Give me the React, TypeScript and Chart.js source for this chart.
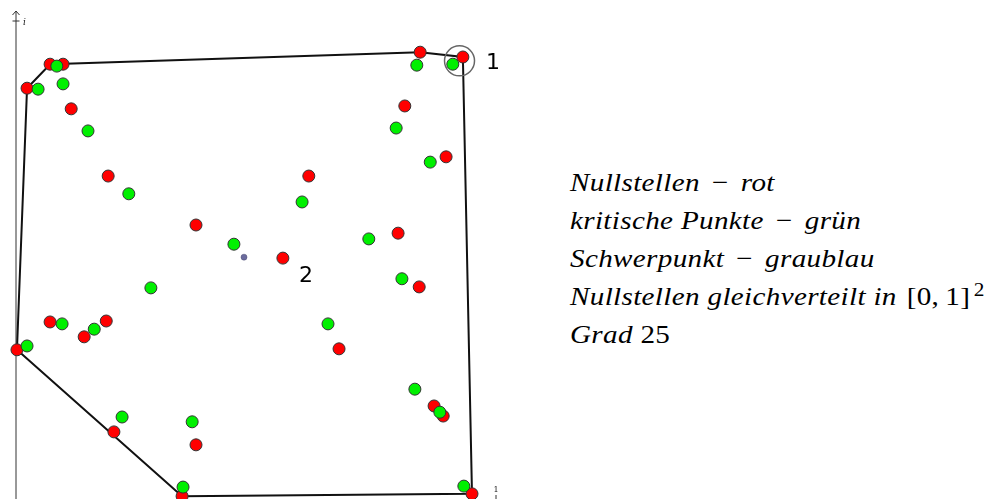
import React, { useEffect, useRef } from "react";
import { Chart, registerables } from "chart.js";

Chart.register(...registerables);

// Nullstellen (zeros of the polynomial), coordinates in the unit square
const zerosX = [0.071, 0.098, 0.023, 0.115, 0.842, 0.931, 0.81, 0.896, 0.192, 0.61, 0.375, 0.556, 0.796, 0.84, 0.673, 0.071, 0.142, 0.188, 0.002, 0.204, 0.375, 0.871, 0.89, 0.95, 0.346];
const zerosY = [0.91, 0.91, 0.86, 0.817, 0.935, 0.925, 0.823, 0.717, 0.677, 0.677, 0.575, 0.506, 0.558, 0.446, 0.317, 0.373, 0.342, 0.375, 0.315, 0.144, 0.117, 0.198, 0.177, 0.015, 0.01];

// kritische Punkte (zeros of the derivative)
const critX = [0.085, 0.046, 0.098, 0.15, 0.835, 0.91, 0.792, 0.863, 0.235, 0.596, 0.454, 0.735, 0.804, 0.65, 0.281, 0.096, 0.163, 0.023, 0.221, 0.367, 0.831, 0.883, 0.933, 0.348];
const critY = [0.906, 0.858, 0.869, 0.771, 0.908, 0.91, 0.777, 0.706, 0.64, 0.623, 0.535, 0.546, 0.463, 0.369, 0.444, 0.369, 0.358, 0.323, 0.175, 0.165, 0.233, 0.185, 0.031, 0.029];

// Schwerpunkt (centroid of the zeros)
const centroidX = [0.475];
const centroidY = [0.508];

// convex hull of the zeros, as indices into the zero arrays (closed loop)
const hullIdx = [18, 2, 0, 4, 5, 23, 24, 18];

// highlighted ring around the zero labelled "1"
const ringX = [0.924];
const ringY = [0.917];

// numbered zeros: index into the zero arrays and the text drawn next to it
const labelIdx = [5, 11];
const labelText = ["1", "2"];

const W = 540;
const H = 499;
const UNIT = 480; // pixels per unit on both axes
const X0 = 16; // pixel column of the imaginary axis
const Y0 = 501; // pixel row of the real axis

const toPts = (xs: number[], ys: number[]) => xs.map((x, i) => ({ x, y: ys[i] }));

const overlay = {
  id: "overlay",
  beforeDatasetsDraw(chart: any) {
    const { ctx, scales } = chart;
    const ax = scales.x.getPixelForValue(0);
    const top = scales.y.getPixelForValue((Y0 - 11) / UNIT);
    const one = scales.y.getPixelForValue(1);
    ctx.save();
    ctx.strokeStyle = "#333";
    ctx.lineWidth = 1;
    ctx.beginPath();
    ctx.moveTo(ax, H);
    ctx.lineTo(ax, top);
    // arrow head
    ctx.moveTo(ax - 3.5, top + 4);
    ctx.lineTo(ax, top);
    ctx.lineTo(ax + 3.5, top + 4);
    // tick at 1
    ctx.moveTo(ax - 3.5, one);
    ctx.lineTo(ax + 3.5, one);
    ctx.stroke();
    ctx.fillStyle = "#222";
    ctx.font = "italic 9px 'DejaVu Serif'";
    ctx.textAlign = "left";
    ctx.textBaseline = "alphabetic";
    ctx.fillText("i", ax + 7, one + 4);
    // tick label on the real axis
    const x1 = scales.x.getPixelForValue(1);
    ctx.font = "8px 'DejaVu Serif'";
    ctx.textAlign = "center";
    ctx.fillText("1", x1, 492);
    ctx.beginPath();
    ctx.moveTo(x1, 495);
    ctx.lineTo(x1, 499);
    ctx.stroke();
    ctx.restore();
  },
  afterDatasetsDraw(chart: any) {
    const { ctx, scales } = chart;
    const offsets = [
      [23, 12],
      [16, 24],
    ];
    ctx.save();
    ctx.fillStyle = "#000";
    ctx.font = "22px 'DejaVu Sans'";
    ctx.textAlign = "left";
    ctx.textBaseline = "alphabetic";
    labelIdx.forEach((k, i) => {
      const px = scales.x.getPixelForValue(zerosX[k]);
      const py = scales.y.getPixelForValue(zerosY[k]);
      ctx.fillText(labelText[i], px + offsets[i][0], py + offsets[i][1]);
    });
    ctx.restore();
  },
};

function PlotCanvas() {
  const ref = useRef<HTMLCanvasElement | null>(null);
  useEffect(() => {
    if (!ref.current) return;
    const hullX = hullIdx.map((k) => zerosX[k]);
    const hullY = hullIdx.map((k) => zerosY[k]);
    const chart = new Chart(ref.current, {
      type: "scatter",
      data: {
        datasets: [
          {
            label: "Schwerpunkt",
            data: toPts(centroidX, centroidY),
            pointRadius: 3,
            pointBorderWidth: 0.5,
            pointBackgroundColor: "#6b6b9e",
            pointBorderColor: "#4a4a70",
            order: 0,
          },
          {
            label: "kritische Punkte",
            data: toPts(critX, critY),
            pointRadius: 6,
            pointBorderWidth: 1,
            pointBackgroundColor: "#00f000",
            pointBorderColor: "#333",
            order: 1,
          },
          {
            label: "Nullstellen",
            data: toPts(zerosX, zerosY),
            pointRadius: 6,
            pointBorderWidth: 1,
            pointBackgroundColor: "#ff0000",
            pointBorderColor: "#333",
            order: 2,
          },
          {
            label: "Markierung",
            data: toPts(ringX, ringY),
            pointRadius: 15,
            pointBorderWidth: 1.5,
            pointBackgroundColor: "rgba(0,0,0,0)",
            pointBorderColor: "#666",
            order: 3,
          },
          {
            label: "Konvexe Hülle",
            data: toPts(hullX, hullY),
            showLine: true,
            pointRadius: 0,
            borderColor: "#111",
            borderWidth: 2,
            fill: false,
            order: 4,
          },
        ],
      },
      options: {
        responsive: false,
        animation: false,
        devicePixelRatio: 1,
        layout: { padding: 0, autoPadding: false },
        plugins: {
          legend: { display: false },
          tooltip: { enabled: false },
        },
        scales: {
          x: { type: "linear", display: false, min: -X0 / UNIT, max: (W - X0) / UNIT },
          y: { type: "linear", display: false, min: (Y0 - H) / UNIT, max: Y0 / UNIT },
        },
      },
      plugins: [overlay],
    });
    return () => chart.destroy();
  }, []);
  return <canvas ref={ref} width={W} height={H} style={{ position: "absolute", left: 0, top: 0 }} />;
}

const it: React.CSSProperties = { fontStyle: "italic" };
const up: React.CSSProperties = { fontStyle: "normal" };
const minus: React.CSSProperties = { fontStyle: "normal", margin: "0 4px" };

export default function App() {
  return (
    <div style={{ position: "fixed", left: 0, top: 0, width: 990, height: 499, background: "#fff", overflow: "hidden" }}>
      <PlotCanvas />
      <div
        style={{
          position: "absolute",
          left: 570,
          top: 164,
          fontFamily: "'Liberation Serif', 'Times New Roman', serif",
          fontSize: 26,
          letterSpacing: "0.3px",
          lineHeight: "38px",
          color: "#000",
          whiteSpace: "nowrap",
          transform: "scaleX(1.12)",
          transformOrigin: "0 0",
        }}
      >
        <div><span style={it}>Nullstellen</span> <span style={minus}>−</span> <span style={it}>rot</span></div>
        <div><span style={it}>kritische Punkte</span> <span style={minus}>−</span> <span style={it}>grün</span></div>
        <div><span style={it}>Schwerpunkt</span> <span style={minus}>−</span> <span style={it}>graublau</span></div>
        <div>
          <span style={it}>Nullstellen gleichverteilt in</span>{" "}
          <span style={{ ...up, marginLeft: 2 }}>[0,&#8201;1]</span>
          <sup style={{ fontSize: 19, verticalAlign: "0.45em", lineHeight: 0, marginLeft: 3 }}>2</sup>
        </div>
        <div><span style={it}>Grad</span> <span style={up}>25</span></div>
      </div>
    </div>
  );
}
